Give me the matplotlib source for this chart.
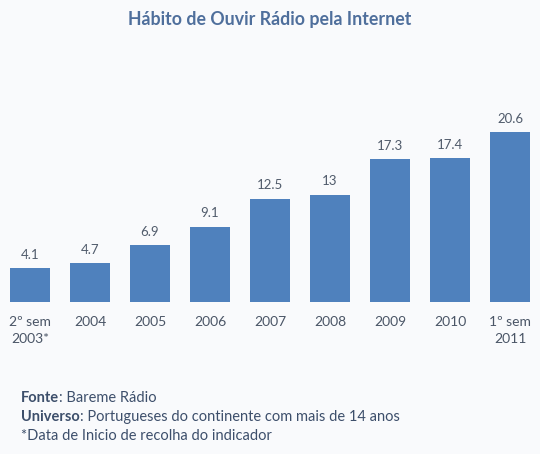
import numpy as np
import matplotlib.pyplot as plt

# data
categories = ["2º sem\n2003*", "2004", "2005", "2006", "2007", "2008", "2009", "2010", "1º sem\n2011"]
values = [4.1, 4.7, 6.9, 9.1, 12.5, 13, 17.3, 17.4, 20.6]
value_labels = ["4.1", "4.7", "6.9", "9.1", "12.5", "13", "17.3", "17.4", "20.6"]

plt.rcParams['font.family'] = ['Lato', 'DejaVu Sans']

bg = '#f9fafc'
fig = plt.figure(figsize=(5.4, 4.54), dpi=100, facecolor=bg)
ax = fig.add_axes([0, 1 - 302 / 454, 1, 202 / 454])
ax.set_facecolor(bg)

x = np.arange(len(categories))
ax.bar(x, values, width=0.66, color='#4f81bd')
for xi, v, lab in zip(x, values, value_labels):
    ax.text(xi, v + 0.9, lab, ha='center', va='bottom', fontsize=9.5, color='#505b6b')

ax.set_xlim(-0.5, len(categories) - 0.5)
ax.set_ylim(0, 202 / 8.25)
ax.set_xticks(x)
ax.set_xticklabels(categories, fontsize=10, color='#4a5566', linespacing=1.5)
ax.tick_params(axis='x', length=0, pad=10)
ax.set_yticks([])
for s in ax.spines.values():
    s.set_visible(False)

fig.text(0.5, 1 - 20 / 454, "Hábito de Ouvir Rádio pela Internet", ha='center', va='center',
         fontsize=12.8, fontweight='bold', color='#4f6f9c')

# footer: bold label followed by regular text
foot_color = '#3d4f6b'
renderer = fig.canvas.get_renderer()


def footer_line(y_px, bold, rest):
    x0 = 21 / 540
    y = 1 - y_px / 454
    if bold:
        t = fig.text(x0, y, bold, fontsize=10.5, color=foot_color, va='center', fontweight='bold')
        bb = t.get_window_extent(renderer)
        x0 = bb.x1 / fig.bbox.width
    fig.text(x0, y, rest, fontsize=10.5, color=foot_color, va='center')


footer_line(398, "Fonte", ": Bareme Rádio")
footer_line(417, "Universo", ": Portugueses do continente com mais de 14 anos")
footer_line(436, None, "*Data de Inicio de recolha do indicador")

fig.savefig("out.png", dpi=100, facecolor=bg)
